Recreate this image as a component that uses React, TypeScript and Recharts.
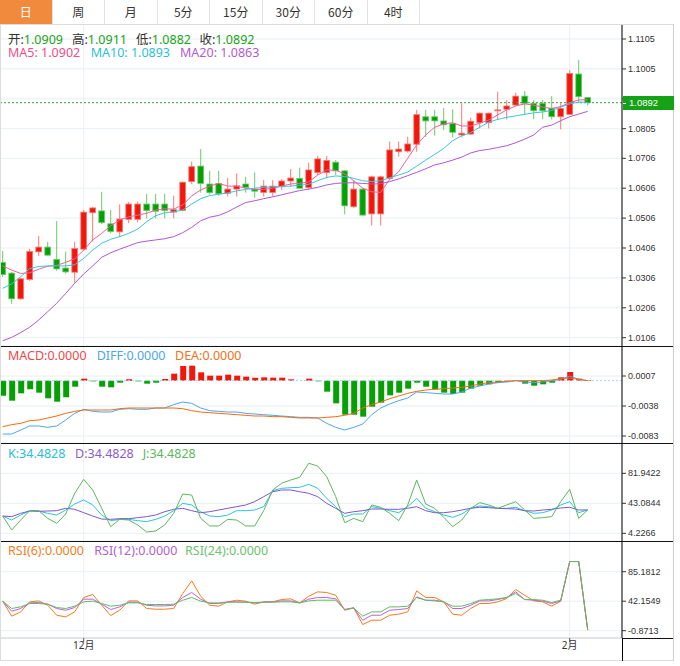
import React from "react";
import {
  Bar,
  CartesianGrid,
  Cell,
  ComposedChart,
  Line,
  ReferenceLine,
  XAxis,
  YAxis,
} from "recharts";

// daily candles
const opens = [
  1.0358, 1.0322, 1.0236, 1.0301, 1.0393, 1.0409, 1.0368, 1.0339, 1.0325, 1.0402,
  1.0524, 1.053, 1.0487, 1.046, 1.0502, 1.0502, 1.0553, 1.0553, 1.0553, 1.0526,
  1.0532, 1.0628, 1.068, 1.062, 1.0622, 1.0589, 1.0603, 1.062, 1.0603, 1.0592,
  1.0592, 1.0611, 1.063, 1.0639, 1.0608, 1.0658, 1.0658, 1.0693, 1.0664, 1.0544,
  1.0603, 1.052, 1.052, 1.0639, 1.0728, 1.073, 1.0753, 1.0845, 1.0845, 1.0831,
  1.0822, 1.0784, 1.0787, 1.0825, 1.0825, 1.0865, 1.087, 1.0884, 1.0914, 1.089,
  1.089, 1.0873, 1.0845, 1.0853, 1.0988, 1.0909,
];
const highs = [
  1.0396, 1.0326, 1.0306, 1.0403, 1.0446, 1.0427, 1.0496, 1.0394, 1.0427, 1.0533,
  1.0544, 1.0594, 1.0533, 1.0552, 1.056, 1.0562, 1.0587, 1.0587, 1.0587, 1.0581,
  1.0628, 1.0695, 1.0737, 1.0664, 1.0664, 1.064, 1.0656, 1.0644, 1.0659, 1.0633,
  1.0633, 1.0636, 1.067, 1.0675, 1.0691, 1.0714, 1.0714, 1.07, 1.0666, 1.0633,
  1.0605, 1.0648, 1.0648, 1.0762, 1.0762, 1.0778, 1.0868, 1.0868, 1.0868, 1.0874,
  1.087, 1.089, 1.0842, 1.0859, 1.0859, 1.0929, 1.0901, 1.0925, 1.0931, 1.0901,
  1.0901, 1.0914, 1.089, 1.1001, 1.1035, 1.0911,
];
const lows = [
  1.0309, 1.0219, 1.0233, 1.0296, 1.0379, 1.038, 1.033, 1.032, 1.029, 1.0396,
  1.0427, 1.0486, 1.0455, 1.0442, 1.0489, 1.0492, 1.0505, 1.0505, 1.0505, 1.0505,
  1.0529, 1.0619, 1.0591, 1.0585, 1.058, 1.0578, 1.0578, 1.0591, 1.0574, 1.0578,
  1.0578, 1.06, 1.0611, 1.0603, 1.06, 1.065, 1.064, 1.065, 1.0519, 1.054,
  1.0514, 1.0481, 1.0481, 1.0633, 1.0711, 1.0725, 1.0728, 1.0778, 1.0782, 1.0801,
  1.0776, 1.0776, 1.0784, 1.0806, 1.0806, 1.0834, 1.0836, 1.0881, 1.0851, 1.0837,
  1.0837, 1.0836, 1.0803, 1.0851, 1.089, 1.0882,
];
const closes = [
  1.0317, 1.0236, 1.0303, 1.0394, 1.0409, 1.0382, 1.0336, 1.0326, 1.0404, 1.0526,
  1.054, 1.0491, 1.0461, 1.0503, 1.0553, 1.0553, 1.0531, 1.0529, 1.0531, 1.0534,
  1.0626, 1.0678, 1.0622, 1.0591, 1.0587, 1.0603, 1.0614, 1.0609, 1.0596, 1.0613,
  1.0613, 1.063, 1.064, 1.0606, 1.0667, 1.0704, 1.0699, 1.0664, 1.0547, 1.0603,
  1.0516, 1.0644, 1.0644, 1.0734, 1.0737, 1.0754, 1.0852, 1.0831, 1.0831, 1.0818,
  1.0793, 1.079, 1.083, 1.0857, 1.0857, 1.0868, 1.0881, 1.0914, 1.089, 1.0865,
  1.0865, 1.0845, 1.0873, 1.099, 1.0912, 1.0892,
];

const ma5 = [
  1.0346, 1.0332, 1.0321, 1.0323, 1.0335, 1.0345, 1.0348, 1.0358, 1.037, 1.0399,
  1.0433, 1.0455, 1.048, 1.05, 1.051, 1.0516, 1.0522, 1.0533, 1.0537, 1.0536,
  1.055, 1.058, 1.06, 1.0613, 1.0622, 1.0613, 1.0613, 1.0606, 1.0602, 1.0602,
  1.0606, 1.0613, 1.062, 1.0622, 1.0627, 1.065, 1.0667, 1.0666, 1.0654, 1.0631,
  1.0606, 1.0594, 1.0592, 1.0636, 1.0661, 1.0706, 1.0751, 1.0784, 1.081, 1.0821,
  1.0825, 1.0814, 1.0814, 1.0823, 1.0834, 1.0851, 1.0868, 1.0881, 1.0888, 1.0884,
  1.0877, 1.0873, 1.0879, 1.0892, 1.0901, 1.0902,
];
const ma10 = [
  1.0271, 1.0286, 1.031, 1.0337, 1.0344, 1.0346, 1.0346, 1.0346, 1.035, 1.0371,
  1.0399, 1.0422, 1.0435, 1.0444, 1.0455, 1.0469, 1.0494, 1.0514, 1.0524, 1.0527,
  1.0533, 1.0553, 1.0571, 1.0581, 1.0586, 1.059, 1.0597, 1.0602, 1.0606, 1.0609,
  1.0611, 1.0612, 1.0613, 1.0616, 1.0619, 1.0631, 1.0642, 1.0647, 1.0645, 1.0639,
  1.0631, 1.0628, 1.0631, 1.0641, 1.065, 1.066, 1.068, 1.07, 1.0719, 1.0739,
  1.0765, 1.0781, 1.0792, 1.081, 1.0827, 1.0836, 1.0843, 1.0848, 1.0853, 1.0858,
  1.0861, 1.0866, 1.0877, 1.0888, 1.0894, 1.0893,
];
const ma20 = [
  1.0096, 1.0107, 1.0123, 1.0141, 1.0165, 1.0193, 1.0221, 1.0254, 1.0288, 1.0319,
  1.0346, 1.0375, 1.039, 1.0402, 1.0413, 1.0424, 1.0429, 1.0433, 1.0437, 1.0444,
  1.0457, 1.0475, 1.0497, 1.0509, 1.0515, 1.0527, 1.0543, 1.0558, 1.0564, 1.0571,
  1.0577, 1.0584, 1.0591, 1.0598, 1.0603, 1.0609, 1.0617, 1.0622, 1.0624, 1.0624,
  1.0622, 1.062, 1.0621, 1.0628, 1.0637, 1.0648, 1.0659, 1.0671, 1.0684, 1.0691,
  1.07, 1.071, 1.0724, 1.0732, 1.0736, 1.0742, 1.0748, 1.0758, 1.077, 1.0784,
  1.081, 1.0817, 1.0832, 1.0845, 1.0854, 1.0863,
];

const macdHist = [
  -0.00225, -0.003, -0.0019, -0.0013, -0.0018, -0.00265, -0.00315, -0.0025, -0.0009, 0.0003,
  -0.0001, -0.0009, -0.001, -0.0003, 0.0002, -0.0001, -0.00045, -0.0003, 0.00025, 0.00105,
  0.0022, 0.00225, 0.00125, 0.00075, 0.00075, 0.0009, 0.00075, 0.0006, 0.00045, 0.0005,
  0.00045, 0.00045, 0.0002, 0, 0.0003, -0.0001, -0.00165, -0.0034, -0.0051, -0.0051,
  -0.0054, -0.0039, -0.0033, -0.0022, -0.0018, -0.0012, -0.0003, -0.0009, -0.0013, -0.0018,
  -0.002, -0.0018, -0.0012, -0.00075, -0.00055, -0.0003, -0.0001, 0, -0.00045, -0.00075,
  -0.00055, -0.0003, 0.0005, 0.0013, 0.0003, 0.0001,
];
const diffLine = [
  -0.008, -0.008, -0.0074, -0.0068, -0.0068, -0.007, -0.0068, -0.0059, -0.0049, -0.0043,
  -0.0046, -0.0047, -0.0047, -0.0043, -0.0042, -0.0043, -0.0043, -0.0041, -0.0041, -0.0036,
  -0.0032, -0.0034, -0.0041, -0.0045, -0.0046, -0.0047, -0.0047, -0.0049, -0.005, -0.0051,
  -0.0052, -0.0053, -0.0054, -0.0055, -0.0055, -0.0056, -0.0064, -0.007, -0.0074, -0.007,
  -0.0065, -0.0051, -0.0041, -0.0035, -0.003, -0.0026, -0.0017, -0.0018, -0.0019, -0.002,
  -0.002, -0.0017, -0.0011, -0.0008, -0.0005, -0.0003, -0.0002, 0, -0.0002, -0.0003,
  -0.0002, 0, 0.0002, 0.0007, 0.0002, 0,
];
const deaLine = [
  -0.0069, -0.0066, -0.0064, -0.006, -0.0059, -0.0056, -0.0053, -0.0049, -0.0046, -0.0044,
  -0.0044, -0.0044, -0.0044, -0.0042, -0.0041, -0.0041, -0.0041, -0.0041, -0.0041, -0.0041,
  -0.0042, -0.0045, -0.0047, -0.0048, -0.0049, -0.005, -0.0051, -0.0052, -0.0053, -0.0053,
  -0.0054, -0.0054, -0.0055, -0.0056, -0.0056, -0.0056, -0.0055, -0.0054, -0.0052, -0.0049,
  -0.0041, -0.0036, -0.0032, -0.0027, -0.0023, -0.0019, -0.0016, -0.0014, -0.0013, -0.0012,
  -0.0011, -0.001, -0.0008, -0.0005, -0.0003, -0.0002, -0.0001, 0, 0, 0,
  0, 0.0001, 0.0003, 0.0004, 0.0002, 0,
];

const kLine = [
  26.6, 21.4, 27.9, 33.5, 33.1, 30.1, 27.9, 34.4, 42.2, 47.4,
  40.9, 27.9, 20.6, 22.3, 22.3, 20.6, 19.3, 22.3, 26.6, 33.5,
  43.0, 40.9, 32.2, 26.6, 25.8, 27.9, 33.5, 33.5, 34.4, 38.7,
  59.4, 62.5, 63.3, 63.8, 67.7, 62.5, 49.5, 38.7, 25.8, 29.2,
  29.2, 38.7, 36.6, 33.5, 30.9, 38.7, 49.5, 36.6, 32.2, 27.9,
  24.9, 29.2, 36.6, 39.6, 38.7, 36.6, 36.6, 37.9, 33.5, 30.1,
  30.9, 34.4, 40.9, 45.2, 30.9, 34.4828,
];
const dLine = [
  26.6, 25.8, 30.1, 33.1, 32.7, 33.1, 33.5, 36.6, 35.3, 30.9,
  26.6, 22.7, 22.3, 23.2, 23.2, 24.5, 25.8, 27.9, 32.2, 35.3,
  36.6, 33.5, 30.9, 32.2, 34.4, 36.6, 38.7, 40.9, 45.2, 51.7,
  58.1, 60.3, 60.3, 58.1, 56.0, 51.7, 43.0, 36.6, 30.1, 32.2,
  33.5, 35.7, 35.7, 35.3, 35.3, 36.6, 38.7, 33.5, 30.9, 30.9,
  32.2, 34.4, 36.6, 37.9, 37.4, 36.6, 36.1, 35.7, 33.5, 33.1,
  34.4, 35.3, 37.0, 37.9, 34.4, 34.4828,
];
const jLine = [
  26.6, 8.5, 21.4, 33.5, 33.5, 23.6, 17.1, 29.2, 56.0, 74.1,
  60.3, 36.6, 12.8, 22.3, 21.4, 15.0, 5.9, 7.2, 15.0, 30.1,
  55.1, 53.8, 23.6, 13.7, 13.7, 22.3, 21.4, 13.7, 13.7, 33.5,
  60.3, 69.0, 73.3, 76.7, 94.9, 91.4, 77.6, 51.7, 18.0, 23.6,
  19.3, 40.9, 37.9, 30.1, 20.6, 40.9, 73.3, 42.2, 36.6, 24.9,
  12.8, 21.4, 36.6, 43.9, 40.9, 36.6, 40.9, 45.2, 34.4, 23.6,
  24.5, 25.8, 45.2, 61.2, 23.6, 34.4828,
];

const rsi6 = [
  42.2, 20.3, 26.6, 41.2, 42.6, 36.3, 21.7, 19.3, 26.6, 47.5,
  51.9, 36.3, 21.2, 29.0, 42.6, 42.6, 31.5, 30.5, 30.5, 31.5,
  53.3, 71.8, 49.4, 36.3, 34.9, 41.2, 43.6, 42.2, 37.8, 41.2,
  41.2, 44.6, 45.6, 39.7, 49.4, 55.8, 54.8, 50.9, 29.0, 32.4,
  8.1, 14.4, 14.4, 21.7, 23.2, 26.6, 57.2, 47.5, 47.5, 41.2,
  23.2, 21.7, 31.5, 38.8, 38.8, 41.2, 46.0, 59.2, 50.9, 42.6,
  41.2, 34.9, 42.2, 100, 100, 0,
];
const rsi12 = [
  42.2, 27.6, 31.5, 39.7, 40.2, 37.8, 31.5, 29.0, 32.9, 45.1,
  45.1, 37.8, 30.0, 33.9, 40.7, 40.7, 36.3, 35.3, 35.3, 36.3,
  47.5, 54.8, 45.1, 38.8, 38.8, 41.2, 41.2, 40.7, 39.7, 40.7,
  41.2, 42.6, 42.6, 39.7, 45.1, 47.5, 47.5, 45.6, 30.0, 32.4,
  14.4, 21.7, 21.7, 29.0, 30.0, 31.5, 48.5, 43.6, 43.6, 41.2,
  31.5, 31.5, 36.3, 42.6, 42.6, 44.6, 47.5, 55.8, 44.6, 43.6,
  42.2, 38.8, 42.6, 100, 100, 0,
];
const rsi24 = [
  42.2, 31.5, 33.9, 38.8, 38.8, 37.8, 32.9, 31.5, 34.9, 41.2,
  42.2, 38.8, 34.9, 36.3, 39.7, 39.7, 37.3, 37.3, 37.3, 37.8,
  43.6, 47.5, 42.2, 39.7, 39.7, 40.7, 40.7, 40.7, 40.2, 40.7,
  40.7, 41.2, 41.2, 39.7, 42.6, 43.6, 43.6, 43.6, 30.0, 32.4,
  20.3, 26.6, 26.6, 33.9, 33.9, 34.9, 47.5, 43.6, 42.6, 41.2,
  34.9, 34.9, 38.8, 43.6, 44.6, 45.6, 47.5, 53.3, 44.6, 44.6,
  43.6, 40.2, 43.6, 100, 100, 0,
];

const priceTicks = [
  1.0106, 1.0206, 1.0306, 1.0406, 1.0506, 1.0606, 1.0706, 1.0805, 1.0905, 1.1005, 1.1105,
];
const macdTicks = [-0.0083, -0.0038, 0.0007];
const kdjTicks = [4.2266, 43.0844, 81.9422];
const rsiTicks = [-0.8713, 42.1549, 85.1812];
const monthTicks = [9, 63];
const monthNames: Record<number, string> = { 9: "12月", 63: "2月" };
const periods = ["日", "周", "月", "5分", "15分", "30分", "60分", "4时"];
const lastClose = 1.0892;

const rows = opens.map((open, i) => ({
  i,
  open,
  high: highs[i],
  low: lows[i],
  close: closes[i],
  ma5: ma5[i],
  ma10: ma10[i],
  ma20: ma20[i],
  macd: macdHist[i],
  diff: diffLine[i],
  dea: deaLine[i],
  k: kLine[i],
  d: dLine[i],
  j: jLine[i],
  rsi6: rsi6[i],
  rsi12: rsi12[i],
  rsi24: rsi24[i],
}));

const RED = "#f2170b";
const GREEN = "#06a006";
const GRID = "#e9eff3";
const X_DOMAIN = [-0.3, 68.81];
const FONT = '"Noto Sans", "Noto Sans CJK SC", sans-serif';
const axisTick = { fontSize: 9, fill: "#333", fontFamily: '"Liberation Sans", Arial, sans-serif' };

const Candle = (props: any) => {
  const { x, y, width, height, payload } = props;
  const { open, close, high, low } = payload;
  const top = Math.min(y, y + height);
  const h = Math.abs(height);
  const k = h / (high - low);
  const cx = x + width / 2;
  const up = close >= open;
  const bodyTop = top + (high - Math.max(open, close)) * k;
  const bodyH = Math.max(1, Math.abs(open - close) * k);
  const wick = up ? "#f47b73" : "#6acb6a";
  return (
    <g>
      <line x1={cx} x2={cx} y1={top} y2={top + h} stroke={wick} strokeWidth={1} />
      <rect
        x={cx - 2.9}
        y={bodyTop}
        width={5.8}
        height={bodyH}
        fill={up ? RED : GREEN}
        stroke={wick}
        strokeWidth={0.8}
      />
    </g>
  );
};

const rightAxis = (domain: number[], ticks: number[]) => (
  <YAxis
    orientation="right"
    width={52}
    domain={domain}
    ticks={ticks}
    interval={0}
    allowDataOverflow
    axisLine={{ stroke: "#000" }}
    tickLine={{ stroke: "#333" }}
    tickSize={4}
    tick={axisTick}
    tickFormatter={(v: number) => v.toFixed(4)}
  />
);

const hiddenX = (
  <XAxis dataKey="i" type="number" domain={X_DOMAIN} ticks={monthTicks} allowDataOverflow hide />
);

type Part = [string, string];
const LegendRow = ({ top, items }: { top: number; items: { x: number; parts: Part[] }[] }) => (
  <>
    {items.map((item, n) => (
      <div
        key={n}
        style={{
          position: "absolute",
          left: item.x,
          top,
          fontSize: 12.5,
          lineHeight: "12px",
          fontFamily: FONT,
          whiteSpace: "nowrap",
        }}
      >
        {item.parts.map(([t, c], m) => (
          <span key={m} style={{ color: c }}>
            {t}
          </span>
        ))}
      </div>
    ))}
  </>
);

const hline = (top: number, left: number, width: number, color: string) => (
  <div style={{ position: "absolute", top, left, width, height: 1, background: color }} />
);
const vline = (left: number, top: number, height: number, color: string) => (
  <div style={{ position: "absolute", top, left, width: 1, height, background: color }} />
);

export default function App() {
  const valGreen = "#17a317";
  return (
    <div
      style={{
        position: "absolute",
        left: 0,
        top: 0,
        width: 680,
        height: 666,
        background: "#fff",
        overflow: "hidden",
      }}
    >
      {/* period tabs */}
      <div style={{ position: "absolute", left: 0, top: 0, height: 24, display: "flex" }}>
        {periods.map((p, n) => (
          <div
            key={p}
            style={{
              width: 52.5,
              height: 24,
              boxSizing: "border-box",
              borderRight: "1px solid #e2e2e2",
              background: n === 0 ? "#f28a3d" : "#fff",
              color: n === 0 ? "#fff" : "#333",
              fontSize: 12,
              lineHeight: "24px",
              textAlign: "center",
              fontFamily: '"Noto Sans CJK SC", sans-serif',
            }}
          >
            {p}
          </div>
        ))}
      </div>

      {/* candles + MA */}
      <div style={{ position: "absolute", left: 0, top: 24 }}>
        <ComposedChart width={674} height={322} data={rows} margin={{ top: 0, right: 0, bottom: 0, left: 0 }}>
          <CartesianGrid stroke={GRID} />
          {hiddenX}
          {rightAxis([1.00782, 1.11552], priceTicks)}
          <ReferenceLine y={lastClose} stroke="#3a9e3a" strokeDasharray="2 2" />
          <Bar
            dataKey={(d: any) => [d.low, d.high]}
            shape={<Candle />}
            barSize={7}
            isAnimationActive={false}
          />
          <Line dataKey="ma5" stroke="#f0609a" strokeWidth={1} dot={false} activeDot={false} isAnimationActive={false} />
          <Line dataKey="ma10" stroke="#3cc4dc" strokeWidth={1} dot={false} activeDot={false} isAnimationActive={false} />
          <Line dataKey="ma20" stroke="#b058d0" strokeWidth={1} dot={false} activeDot={false} isAnimationActive={false} />
        </ComposedChart>
      </div>

      {/* MACD */}
      <div style={{ position: "absolute", left: 0, top: 346 }}>
        <ComposedChart width={674} height={97} data={rows} margin={{ top: 0, right: 0, bottom: 0, left: 0 }}>
          <CartesianGrid stroke={GRID} />
          {hiddenX}
          {rightAxis([-0.00935, 0.0052], macdTicks)}
          <ReferenceLine y={0} stroke="#a6d8ee" strokeDasharray="2 2" />
          <Bar dataKey="macd" barSize={6} isAnimationActive={false}>
            {rows.map((r) => (
              <Cell key={r.i} fill={r.macd >= 0 ? RED : GREEN} />
            ))}
          </Bar>
          <Line dataKey="diff" stroke="#4ba6f2" strokeWidth={1} dot={false} activeDot={false} isAnimationActive={false} />
          <Line dataKey="dea" stroke="#f56b12" strokeWidth={1} dot={false} activeDot={false} isAnimationActive={false} />
        </ComposedChart>
      </div>

      {/* KDJ */}
      <div style={{ position: "absolute", left: 0, top: 443 }}>
        <ComposedChart width={674} height={98} data={rows} margin={{ top: 0, right: 0, bottom: 0, left: 0 }}>
          <CartesianGrid stroke={GRID} />
          {hiddenX}
          {rightAxis([-5.75, 121.19], kdjTicks)}
          <Line dataKey="k" stroke="#2ac4dc" strokeWidth={1} dot={false} activeDot={false} isAnimationActive={false} />
          <Line dataKey="d" stroke="#7e57c8" strokeWidth={1} dot={false} activeDot={false} isAnimationActive={false} />
          <Line dataKey="j" stroke="#5cb85c" strokeWidth={1} dot={false} activeDot={false} isAnimationActive={false} />
        </ComposedChart>
      </div>

      {/* RSI */}
      <div style={{ position: "absolute", left: 0, top: 541 }}>
        <ComposedChart width={674} height={120} data={rows} margin={{ top: 0, right: 0, bottom: 0, left: 0 }}>
          <CartesianGrid stroke={GRID} />
          <XAxis
            dataKey="i"
            type="number"
            domain={X_DOMAIN}
            ticks={monthTicks}
            interval={0}
            allowDataOverflow
            height={23}
            axisLine={{ stroke: "#cfcfcf" }}
            tickLine={{ stroke: "#555" }}
            tickSize={4}
            tickMargin={0}
            tick={{ fontSize: 10, fill: "#333", fontFamily: FONT }}
            tickFormatter={(v: number) => monthNames[v] ?? ""}
          />
          {rightAxis([-11.52, 129.96], rsiTicks)}
          <Line dataKey="rsi6" stroke="#f57a1f" strokeWidth={1} dot={false} activeDot={false} isAnimationActive={false} />
          <Line dataKey="rsi12" stroke="#c05fd8" strokeWidth={1} dot={false} activeDot={false} isAnimationActive={false} />
          <Line dataKey="rsi24" stroke="#62bb62" strokeWidth={1} dot={false} activeDot={false} isAnimationActive={false} />
        </ComposedChart>
      </div>

      {/* frame lines */}
      {hline(24, 0, 674, "#dcdcdc")}
      {hline(346, 0, 674, "#111")}
      {hline(443, 0, 674, "#111")}
      {hline(541, 0, 674, "#111")}
      {hline(638, 622, 52, "#111")}
      {hline(660, 0, 674, "#dcdcdc")}
      {vline(622, 638, 23, "#000")}
      {vline(673, 24, 637, "#cfcfcf")}
      {vline(0, 24, 637, "#dcdcdc")}

      {/* last price tag */}
      <div
        style={{
          position: "absolute",
          left: 623,
          top: 96,
          width: 51,
          height: 14,
          background: "#16a216",
          color: "#fff",
          fontSize: 9.5,
          lineHeight: "14px",
          fontFamily: '"Liberation Sans", Arial, sans-serif',
        }}
      >
        <span style={{ position: "absolute", left: 0, top: 7, width: 3, height: 1, background: "#fff" }} />
        <span style={{ position: "absolute", left: 6 }}>1.0892</span>
      </div>

      {/* legends */}
      <LegendRow
        top={33.5}
        items={[
          { x: 8, parts: [["开:", "#333"], ["1.0909", valGreen]] },
          { x: 72, parts: [["高:", "#333"], ["1.0911", valGreen]] },
          { x: 136, parts: [["低:", "#333"], ["1.0882", valGreen]] },
          { x: 199.5, parts: [["收:", "#333"], ["1.0892", valGreen]] },
        ]}
      />
      <LegendRow
        top={46.5}
        items={[
          { x: 8, parts: [["MA5: 1.0902", "#ee4d8a"]] },
          { x: 90.7, parts: [["MA10: 1.0893", "#2bbfd8"]] },
          { x: 180, parts: [["MA20: 1.0863", "#b15ccf"]] },
        ]}
      />
      <LegendRow
        top={350}
        items={[
          { x: 8, parts: [["MACD:0.0000", "#f04848"]] },
          { x: 96.7, parts: [["DIFF:0.0000", "#4ba6f0"]] },
          { x: 175, parts: [["DEA:0.0000", "#f57020"]] },
        ]}
      />
      <LegendRow
        top={448}
        items={[
          { x: 8, parts: [["K:34.4828", "#26c0dc"]] },
          { x: 75, parts: [["D:34.4828", "#8a5ad0"]] },
          { x: 142.7, parts: [["J:34.4828", "#5cb85c"]] },
        ]}
      />
      <LegendRow
        top={545}
        items={[
          { x: 8, parts: [["RSI(6):0.0000", "#f58020"]] },
          { x: 94.3, parts: [["RSI(12):0.0000", "#b35fd0"]] },
          { x: 185, parts: [["RSI(24):0.0000", "#6cc46c"]] },
        ]}
      />
    </div>
  );
}
